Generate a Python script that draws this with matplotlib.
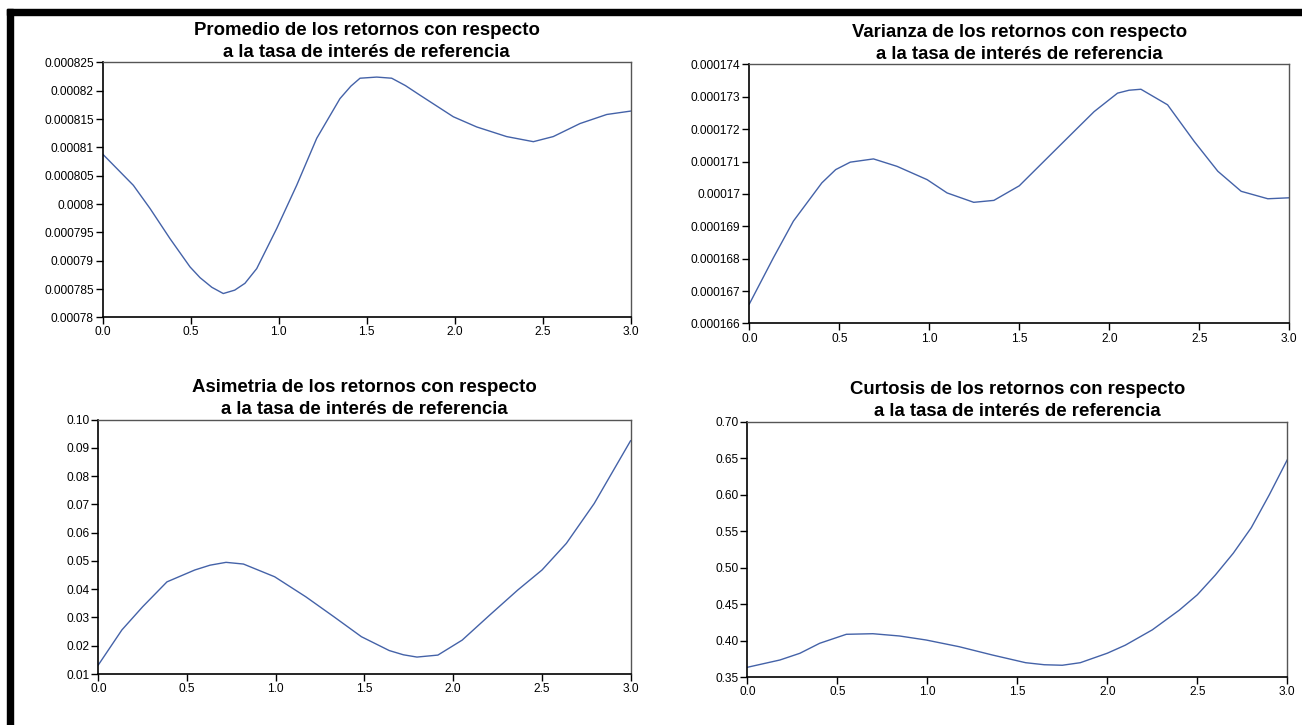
import matplotlib
matplotlib.use("Agg")
import matplotlib.pyplot as plt
from matplotlib.patches import Rectangle
from matplotlib.ticker import MultipleLocator, FuncFormatter

plt.rcParams['font.family'] = ['Liberation Sans', 'DejaVu Sans']

# ----------- Datos -----------
x_prom = [0.0, 0.174, 0.269, 0.382, 0.496, 0.553, 0.62, 0.685, 0.75, 0.808, 0.875,
          0.989, 1.102, 1.216, 1.348, 1.41, 1.462, 1.557, 1.642, 1.72, 1.803, 1.992,
          2.125, 2.295, 2.447, 2.56, 2.712, 2.864, 3.0]
promedio = [0.0008088, 0.0008033, 0.0007992, 0.0007939, 0.0007889, 0.000787,
            0.0007853, 0.0007842, 0.0007848, 0.000786, 0.0007886, 0.0007957,
            0.0008033, 0.0008116, 0.0008186, 0.0008208, 0.0008222, 0.0008224,
            0.0008222, 0.0008209, 0.0008192, 0.0008154, 0.0008136, 0.0008119,
            0.000811, 0.0008119, 0.0008142, 0.0008158, 0.0008164]

x_var = [0.0, 0.134, 0.245, 0.403, 0.48, 0.561, 0.69, 0.821, 0.988, 1.099, 1.247,
         1.359, 1.5, 1.674, 1.823, 1.916, 2.046, 2.11, 2.176, 2.324, 2.472, 2.603,
         2.733, 2.881, 3.0]
varianza = [0.0001666, 0.00016803, 0.00016916, 0.00017034, 0.00017075, 0.00017098,
            0.00017108, 0.00017085, 0.00017044, 0.00017003, 0.00016974, 0.0001698,
            0.00017025, 0.00017121, 0.00017203, 0.00017254, 0.00017311, 0.0001732,
            0.00017323, 0.00017275, 0.00017162, 0.0001707, 0.00017008, 0.00016985,
            0.00016988]

x_asim = [0.0, 0.133, 0.25, 0.387, 0.544, 0.63, 0.72, 0.818, 0.994, 1.17, 1.327,
          1.483, 1.64, 1.72, 1.796, 1.914, 2.051, 2.207, 2.364, 2.501, 2.638, 2.795,
          3.0]
asimetria = [0.0132, 0.0256, 0.0338, 0.0426, 0.0468, 0.0485, 0.0495, 0.0489, 0.0444,
             0.0373, 0.0303, 0.0232, 0.0183, 0.0168, 0.016, 0.0167, 0.022, 0.0309,
             0.0397, 0.0468, 0.0562, 0.0703, 0.0925]

x_curt = [0.0, 0.181, 0.292, 0.402, 0.55, 0.697, 0.845, 0.993, 1.177, 1.362, 1.546,
          1.65, 1.75, 1.85, 2.0, 2.1, 2.25, 2.4, 2.5, 2.6, 2.7, 2.8, 2.9, 3.0]
curtosis = [0.3637, 0.3737, 0.3829, 0.3966, 0.4089, 0.4097, 0.4066, 0.4011, 0.3919,
            0.3805, 0.37, 0.3672, 0.3665, 0.37, 0.383, 0.394, 0.415, 0.442, 0.463,
            0.49, 0.52, 0.555, 0.6, 0.648]

titulos = [
    "Promedio de los retornos con respecto\na la tasa de interés de referencia",
    "Varianza de los retornos con respecto\na la tasa de interés de referencia",
    "Asimetria de los retornos con respecto\na la tasa de interés de referencia",
    "Curtosis de los retornos con respecto\na la tasa de interés de referencia",
]

LINE = "#4462a8"


def fmt_small(v, pos):
    return f"{v:.6f}".rstrip("0").rstrip(".")


def style_axes(ax, title):
    ax.set_title(title, fontsize=13.4, fontweight="bold", pad=4, linespacing=1.4)
    for s in ["left", "bottom"]:
        ax.spines[s].set_color("black")
        ax.spines[s].set_linewidth(1.2)
    for s in ["top", "right"]:
        ax.spines[s].set_color("#555555")
        ax.spines[s].set_linewidth(1.0)
    ax.tick_params(axis="both", direction="out", length=5, width=1,
                   labelsize=8.6, pad=1.5, top=False, right=False)
    ax.set_xlim(0, 3.0)
    ax.xaxis.set_major_locator(MultipleLocator(0.5))
    ax.xaxis.set_major_formatter(FuncFormatter(lambda v, p: f"{v:.1f}"))


fig = plt.figure(figsize=(13.02, 7.25), dpi=100)

# marco negro (izquierda y arriba)
fig.patches.append(Rectangle((7 / 1302, 0), 6 / 1302, 1 - 9 / 725,
                             transform=fig.transFigure, color="black"))
fig.patches.append(Rectangle((7 / 1302, 1 - 15 / 725), 1 - 7 / 1302, 6 / 725,
                             transform=fig.transFigure, color="black"))

ax1 = fig.add_axes([0.0789, 0.5623, 0.4055, 0.3517])
ax2 = fig.add_axes([0.5755, 0.5538, 0.4147, 0.3575])
ax3 = fig.add_axes([0.0755, 0.0703, 0.4088, 0.3510])
ax4 = fig.add_axes([0.5740, 0.0658, 0.4147, 0.3524])

ax1.plot(x_prom, promedio, color=LINE, lw=1.0)
style_axes(ax1, titulos[0])
ax1.set_ylim(0.00078, 0.000825)
ax1.yaxis.set_major_locator(MultipleLocator(0.000005))
ax1.yaxis.set_major_formatter(FuncFormatter(fmt_small))

ax2.plot(x_var, varianza, color=LINE, lw=1.0)
style_axes(ax2, titulos[1])
ax2.set_ylim(0.000166, 0.000174)
ax2.yaxis.set_major_locator(MultipleLocator(0.000001))
ax2.yaxis.set_major_formatter(FuncFormatter(fmt_small))

ax3.plot(x_asim, asimetria, color=LINE, lw=1.0)
style_axes(ax3, titulos[2])
ax3.set_ylim(0.01, 0.10)
ax3.yaxis.set_major_locator(MultipleLocator(0.01))
ax3.yaxis.set_major_formatter(FuncFormatter(lambda v, p: f"{v:.2f}"))

ax4.plot(x_curt, curtosis, color=LINE, lw=1.0)
style_axes(ax4, titulos[3])
ax4.set_ylim(0.35, 0.70)
ax4.yaxis.set_major_locator(MultipleLocator(0.05))
ax4.yaxis.set_major_formatter(FuncFormatter(lambda v, p: f"{v:.2f}"))

fig.savefig("out.png", dpi=100)
